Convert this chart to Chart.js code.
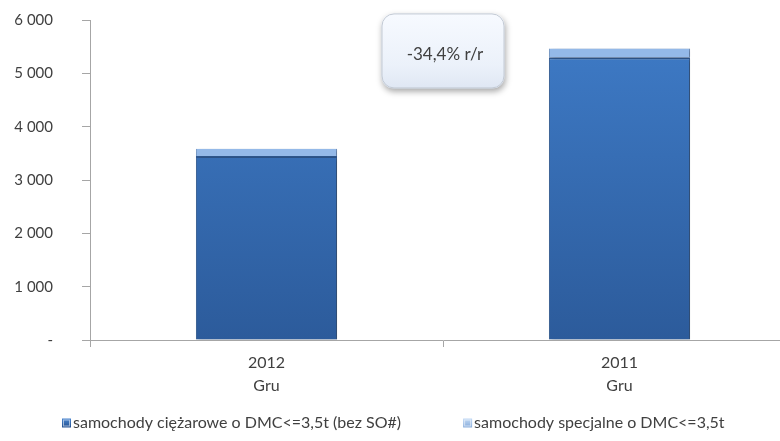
<!DOCTYPE html>
<html>
<head>
<meta charset="utf-8">
<script src="https://cdn.jsdelivr.net/npm/chart.js@4.4.1/dist/chart.umd.min.js"></script>
<style>
  html, body { margin: 0; padding: 0; background: #fff; overflow: hidden; }
  #wrap { position: relative; width: 880px; height: 441px; }
</style>
</head>
<body>
<div id="wrap"><canvas id="rejestracjeChart"></canvas></div>
<script>
// dane
const categories = [['2012', 'Gru'], ['2011', 'Gru']];
const seriesNames = ['samochody ciężarowe o DMC<=3,5t (bez SO#)', 'samochody specjalne o DMC<=3,5t'];
const ciezaroweValues = [3450, 5300];
const specjalneValues = [135, 165];
const yTicks = [0, 1000, 2000, 3000, 4000, 5000, 6000];
const yTickLabels = ['-', '1 000', '2 000', '3 000', '4 000', '5 000', '6 000'];
const legendColors = [['#4a86d0', '#24508f'], ['#c3daf5', '#86abdb']];

const FONT = 'Lato, "Open Sans", sans-serif';
const TEXT = '#404040';
const AXIS = '#a6a6a6';

// zmiana r/r liczona z sum słupków
function yoyText() {
  const t2012 = ciezaroweValues[0] + specjalneValues[0];
  const t2011 = ciezaroweValues[1] + specjalneValues[1];
  const pct = (t2012 / t2011 - 1) * 100;
  return pct.toFixed(1).replace('.', ',') + '% r/r';
}

function vGradient(top, bottom) {
  return (c) => {
    const area = c.chart.chartArea;
    if (!area) return bottom;
    const g = c.chart.ctx.createLinearGradient(0, area.top, 0, area.bottom);
    g.addColorStop(0, top);
    g.addColorStop(1, bottom);
    return g;
  };
}

// znacznik legendy: przezroczysty odstęp z lewej, kwadracik 9x9 przy prawej krawędzi
function legendMarker(colors) {
  const c = document.createElement('canvas');
  c.width = 60; c.height = 11;
  const g = c.getContext('2d');
  const grad = g.createLinearGradient(0, 1, 0, 10);
  grad.addColorStop(0, colors[0]);
  grad.addColorStop(1, colors[1]);
  g.fillStyle = grad;
  g.fillRect(50, 1, 9, 9);
  g.strokeStyle = 'rgba(255,255,255,0.55)';
  g.strokeRect(51.5, 2.5, 6, 6);
  return c;
}

// cień pod słupkami
const barShadow = {
  id: 'barShadow',
  beforeDatasetsDraw(chart) {
    const ctx = chart.ctx;
    ctx.save();
    ctx.shadowColor = 'rgba(0,0,0,0.35)';
    ctx.shadowBlur = 4;
    ctx.shadowOffsetX = 2;
    ctx.shadowOffsetY = 1;
  },
  afterDatasetsDraw(chart) {
    chart.ctx.restore();
  }
};

// ramka z opisem zmiany r/r
const yoyBox = {
  id: 'yoyBox',
  afterDraw(chart) {
    const { ctx, scales: { x, y } } = chart;
    const cx = (x.getPixelForValue(0) + x.getPixelForValue(1)) / 2;
    const cy = y.getPixelForValue(5420);
    const w = 123, h = 75, r = 12;
    const left = cx - w / 2, top = cy - h / 2;

    ctx.save();
    ctx.shadowColor = 'rgba(0,0,0,0.35)';
    ctx.shadowBlur = 6;
    ctx.shadowOffsetX = 1;
    ctx.shadowOffsetY = 3;
    const g = ctx.createLinearGradient(0, top, 0, top + h);
    g.addColorStop(0, '#f7faff');
    g.addColorStop(0.7, '#ebf1fa');
    g.addColorStop(1, '#dfe7f3');
    ctx.fillStyle = g;
    ctx.beginPath();
    ctx.roundRect(left, top, w, h, r);
    ctx.fill();
    ctx.restore();

    ctx.save();
    ctx.strokeStyle = '#c3cad4';
    ctx.lineWidth = 1;
    ctx.beginPath();
    ctx.roundRect(left + 0.5, top + 0.5, w - 1, h - 1, r);
    ctx.stroke();
    ctx.fillStyle = TEXT;
    ctx.font = '17px ' + FONT;
    ctx.textAlign = 'center';
    ctx.textBaseline = 'middle';
    ctx.fillText(yoyText(), cx + 2, top + 41);
    ctx.restore();
  }
};

const ctx = document.getElementById('rejestracjeChart').getContext('2d');

new Chart(ctx, {
  type: 'bar',
  data: {
    labels: categories,
    datasets: [{
      label: seriesNames[0],
      data: ciezaroweValues,
      backgroundColor: vGradient('#3f7cc8', '#2c5b9b'),
      borderColor: '#2f5890',
      borderWidth: { top: 2, left: 1, right: 1, bottom: 0 },
      borderSkipped: false,
      barPercentage: 0.4,
      categoryPercentage: 1
    }, {
      label: seriesNames[1],
      data: specjalneValues,
      backgroundColor: '#94b9e8',
      borderColor: '#6f93c4',
      borderWidth: { top: 0, left: 1, right: 1, bottom: 0 },
      borderSkipped: false,
      barPercentage: 0.4,
      categoryPercentage: 1
    }]
  },
  options: {
    responsive: true,
    maintainAspectRatio: false,
    animation: false,
    layout: { padding: { top: 20, left: 0, right: 0, bottom: 0 } },
    scales: {
      x: {
        stacked: true,
        offset: true,
        grid: { offset: true, drawOnChartArea: false, color: AXIS, tickLength: 7 },
        border: { color: AXIS },
        ticks: { color: TEXT, padding: 4, font: { family: FONT, size: 16, lineHeight: 1.45 } },
        afterFit: (s) => { s.height = 56; }
      },
      y: {
        stacked: true,
        min: 0,
        max: 6000,
        afterBuildTicks: (s) => { s.ticks = yTicks.map(v => ({ value: v })); },
        grid: { drawOnChartArea: false, color: AXIS, tickLength: 8 },
        border: { color: AXIS },
        ticks: {
          color: TEXT,
          padding: 29,
          font: { family: FONT, size: 15 },
          callback: (v) => yTickLabels[yTicks.indexOf(v)]
        },
        afterFit: (s) => { s.width = 90; s.paddingTop = 0; s.paddingBottom = 0; }
      },
      // pusta oś po prawej, żeby obszar wykresu wychodził poza kadr jak w oryginale
      yRight: {
        position: 'right',
        display: true,
        grid: { display: false },
        border: { display: false },
        ticks: { display: false },
        afterFit: (s) => { s.width = 84; s.paddingTop = 0; s.paddingBottom = 0; }
      }
    },
    plugins: {
      legend: {
        position: 'bottom',
        align: 'start',
        labels: {
          color: TEXT,
          font: { family: FONT, size: 16 },
          usePointStyle: true,
          pointStyleWidth: 46,
          padding: 19,
          generateLabels: (chart) => {
            const items = Chart.defaults.plugins.legend.labels.generateLabels(chart);
            items.forEach((it, i) => { it.pointStyle = legendMarker(legendColors[i]); });
            return items;
          }
        }
      },
      tooltip: { enabled: false }
    }
  },
  plugins: [barShadow, yoyBox]
});
</script>
</body>
</html>
